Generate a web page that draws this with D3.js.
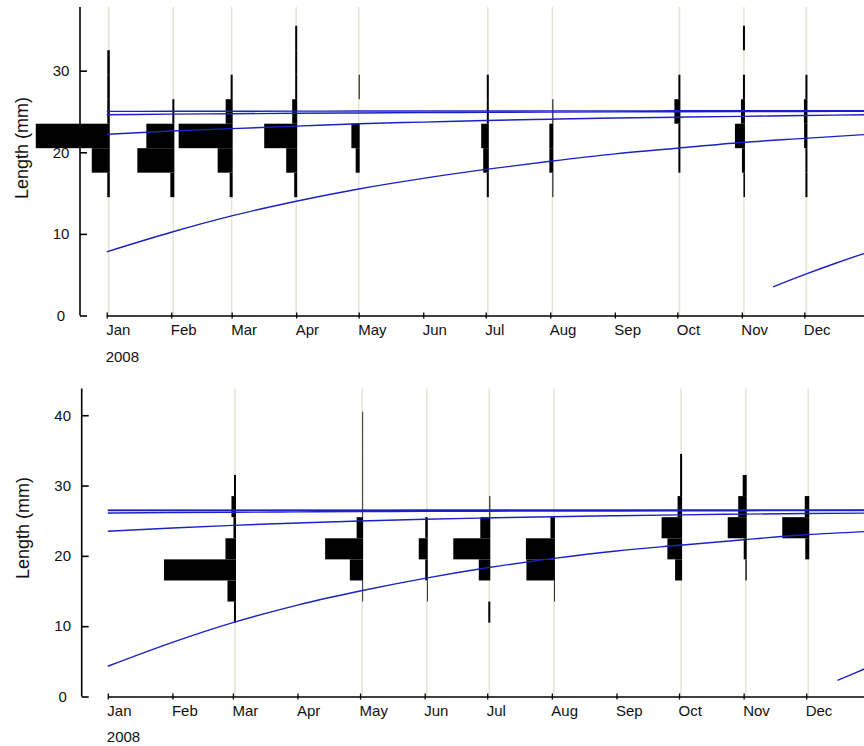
<!DOCTYPE html>
<html>
<head>
<meta charset="utf-8">
<script src="https://cdnjs.cloudflare.com/ajax/libs/d3/7.8.5/d3.min.js"></script>
<style>
    body { margin: 0; background: white; }
    #chart svg { display: block; }
</style>
</head>
<body>
<div id="chart"></div>
<script>

// month ticks on the time axis
const monthTicks = ["2008-01-01", "2008-02-01", "2008-03-01", "2008-04-01", "2008-05-01", "2008-06-01",
    "2008-07-01", "2008-08-01", "2008-09-01", "2008-10-01", "2008-11-01", "2008-12-01"];

// dates where the growth curves were read (1st of each month + year end)
const curveDates = ["2008-01-01", "2008-02-01", "2008-03-01", "2008-04-01", "2008-05-01", "2008-06-01",
    "2008-07-01", "2008-08-01", "2008-09-01", "2008-10-01", "2008-11-01", "2008-12-01", "2009-01-01"];

// ---- upper panel ----
const topSampleDates = ["2008-01-02", "2008-02-02", "2008-03-01", "2008-04-01", "2008-05-01",
    "2008-07-02", "2008-08-02", "2008-10-02", "2008-11-02", "2008-12-02"];
const topBins = [16, 19, 22, 25, 28, 31, 34];   // length class mid points (mm), 3 mm classes
const topFreq = [
    [2.5, 18, 74, 2.5, 2.5, 2.5, 0],    // Jan
    [4, 37, 28, 2, 0, 0, 0],            // Feb
    [3, 15, 54, 7, 2, 0, 0],            // Mar
    [3, 11, 33, 5, 2, 2, 2],            // Apr
    [0, 4, 8.3, 0, 1, 0, 0],            // May
    [2, 5.6, 7.6, 2, 2, 0, 0],          // Jul
    [1, 4, 4, 1, 0, 0, 0],              // Aug
    [0, 2, 2, 6, 2, 0, 0],              // Oct
    [1.5, 3, 10, 4, 2, 0, 2],           // Nov
    [2, 2, 3.3, 3.5, 2, 0, 0]           // Dec
];
const topYTicks = [0, 10, 20, 30];
const topCurve1 = [7.8, 10.2, 12.2, 14.0, 15.5, 16.8, 17.9, 18.9, 19.8, 20.5, 21.2, 21.7, 22.2];
const topCurve2 = [22.2, 22.6, 22.9, 23.2, 23.5, 23.7, 23.9, 24.05, 24.2, 24.3, 24.4, 24.5, 24.6];
const topCurve3 = [24.6, 24.67, 24.72, 24.78, 24.82, 24.86, 24.89, 24.92, 24.95, 24.97, 24.99, 25.0, 25.01];
const topCurve4 = [25.01, 25.02, 25.03, 25.04, 25.05, 25.06, 25.06, 25.07, 25.07, 25.08, 25.08, 25.08, 25.09];
const topRecruitDates = ["2008-11-16", "2008-12-01", "2008-12-16", "2009-01-01"];
const topRecruit = [3.5, 5.0, 6.4, 7.8];

// ---- lower panel ----
const botSampleDates = ["2008-03-02", "2008-05-02", "2008-06-02", "2008-07-02",
    "2008-08-02", "2008-10-02", "2008-11-02", "2008-12-02"];
const botBins = [12, 15, 18, 21, 24, 27, 30, 33, 36, 39];
const botFreq = [
    [2, 8.5, 72, 10.5, 2.5, 4.5, 2, 0, 0, 0],           // Mar
    [0, 0.8, 13.3, 38, 6.5, 0.8, 0.8, 0.8, 0.8, 0.8],   // May
    [0, 0.8, 2.5, 9, 2.5, 0, 0, 0, 0, 0],               // Jun
    [2, 0, 11.5, 37, 10, 1, 0, 0, 0, 0],                // Jul
    [0, 0.8, 28.5, 29, 4.5, 0, 0, 0, 0, 0],             // Aug
    [0, 0, 7, 14.7, 20.5, 4.5, 2, 2, 0, 0],             // Oct
    [0, 0, 1.3, 3, 19, 8.5, 4, 0, 0, 0],                // Nov
    [0, 0, 0, 4, 27, 4.5, 0, 0, 0, 0]                   // Dec
];
const botYTicks = [0, 10, 20, 30, 40];
const botCurve1 = [4.3, 7.7, 10.5, 13.0, 15.0, 16.8, 18.3, 19.6, 20.7, 21.5, 22.3, 23.0, 23.5];
const botCurve2 = [23.5, 23.97, 24.34, 24.68, 24.96, 25.2, 25.39, 25.57, 25.71, 25.83, 25.94, 26.02, 26.09];
const botCurve3 = [26.1, 26.16, 26.21, 26.25, 26.29, 26.32, 26.35, 26.37, 26.39, 26.41, 26.42, 26.44, 26.45];
const botCurve4 = [26.45, 26.46, 26.46, 26.47, 26.47, 26.48, 26.48, 26.48, 26.49, 26.49, 26.49, 26.49, 26.49];
const botCurve5 = [26.49, 26.49, 26.5, 26.5, 26.5, 26.5, 26.5, 26.5, 26.5, 26.5, 26.5, 26.5, 26.5];
const botRecruitDates = ["2008-12-16", "2008-12-24", "2009-01-01"];
const botRecruit = [2.3, 3.3, 4.3];


const parseDate = d3.timeParse("%Y-%m-%d");
const FONT = "'Liberation Sans', Arial, Helvetica, sans-serif";

class LengthFreqPanel {

    constructor(svg, layout, samples, bins, freq, yTicks, curves, recruit) {
        this.svg = svg;
        this.layout = layout;
        this.samples = samples;
        this.bins = bins;
        this.freq = freq;
        this.yTicks = yTicks;
        this.curves = curves;
        this.recruit = recruit;
        this.initVis();
    }

    initVis() {
        let vis = this;
        let L = vis.layout;

        vis.g = vis.svg.append("g");

        // scales
        vis.x = d3.scaleTime()
            .domain([parseDate("2008-01-01"), parseDate("2009-01-01")])
            .range([L.x0, L.x1]);
        vis.y = d3.scaleLinear()
            .domain([0, L.yMax])
            .range([L.yZero, L.yTop]);
        // frequency -> bar length (px)
        vis.w = d3.scaleLinear().domain([0, 100]).range([0, 100]);

        vis.wrangleData();
    }

    wrangleData() {
        let vis = this;

        vis.sampleDates = vis.samples.map(parseDate);

        vis.bars = [];
        vis.freq.forEach((row, i) => {
            row.forEach((f, j) => {
                if (f > 0) vis.bars.push({date: vis.sampleDates[i], mid: vis.bins[j], freq: f});
            });
        });

        vis.curveData = vis.curves.map(c => c.dates.map((d, i) => ({date: parseDate(d), len: c.values[i]})));

        vis.updateVis();
    }

    updateVis() {
        let vis = this;
        let L = vis.layout;

        // sampling date guide lines
        vis.g.selectAll(".sample-line")
            .data(vis.sampleDates)
            .enter().append("line")
            .attr("class", "sample-line")
            .attr("x1", d => vis.x(d))
            .attr("x2", d => vis.x(d))
            .attr("y1", L.yTop)
            .attr("y2", L.yZero)
            .attr("stroke", "#e8e4d6")
            .attr("stroke-width", 1.6);

        // length frequency bars, growing left from the sampling date
        vis.g.selectAll(".lf-bar")
            .data(vis.bars)
            .enter().append("rect")
            .attr("class", "lf-bar")
            .attr("x", d => vis.x(d.date) + 1 - vis.w(d.freq))
            .attr("width", d => vis.w(d.freq))
            .attr("y", d => vis.y(d.mid + 1.5))
            .attr("height", d => vis.y(d.mid - 1.5) - vis.y(d.mid + 1.5))
            .attr("fill", "black");

        // growth curves
        let line = d3.line()
            .x(d => vis.x(d.date))
            .y(d => vis.y(d.len))
            .curve(d3.curveMonotoneX);

        vis.g.selectAll(".growth")
            .data(vis.curveData)
            .enter().append("path")
            .attr("class", "growth")
            .attr("d", line)
            .attr("fill", "none")
            .attr("stroke", "#1a22c2")
            .attr("stroke-width", 1.4);

        // y axis, ticks pointing inwards
        let yAxis = d3.axisLeft(vis.y)
            .tickValues(vis.yTicks)
            .tickSizeInner(-7)
            .tickSizeOuter(0)
            .tickFormat(d3.format("d"));

        let yg = vis.g.append("g")
            .attr("transform", `translate(${L.yAxisX}, 0)`)
            .call(yAxis);
        yg.select(".domain")
            .attr("d", `M0,${L.yZero}V${L.yTop}`)
            .attr("stroke-width", 1.6);
        yg.selectAll(".tick line").attr("stroke-width", 1.6);
        yg.selectAll(".tick text")
            .attr("x", -19)
            .attr("text-anchor", "middle")
            .attr("font-size", 15)
            .attr("font-family", FONT)
            .attr("fill", "#111");

        // x axis starts at Jan, ticks cross the line
        let xAxis = d3.axisBottom(vis.x)
            .tickValues(monthTicks.map(parseDate))
            .tickFormat(d3.timeFormat("%b"))
            .tickSizeInner(3)
            .tickSizeOuter(0);

        let xg = vis.g.append("g")
            .attr("transform", `translate(0, ${L.yZero})`)
            .call(xAxis);
        xg.select(".domain").attr("stroke-width", 1.3);
        xg.selectAll(".tick line")
            .attr("y1", -3)
            .attr("y2", 3)
            .attr("stroke-width", 1.3);
        xg.selectAll(".tick text")
            .attr("x", -1)
            .attr("y", L.tickBase)
            .attr("dy", null)
            .attr("text-anchor", "start")
            .attr("font-size", 15)
            .attr("font-family", FONT)
            .attr("fill", "#111");

        // year label
        vis.g.append("text")
            .attr("x", L.x0 - 1)
            .attr("y", L.yZero + L.yearBase)
            .attr("font-size", 15)
            .attr("font-family", FONT)
            .attr("fill", "#111")
            .text("2008");

        // y axis title
        vis.g.append("text")
            .attr("transform", `translate(${L.titleX}, ${L.titleY}) rotate(-90)`)
            .attr("text-anchor", "middle")
            .attr("dy", "0.35em")
            .attr("font-size", 18)
            .attr("font-family", FONT)
            .attr("fill", "#111")
            .text("Length (mm)");
    }
}

let svg = d3.select("#chart").append("svg")
    .attr("width", 864)
    .attr("height", 746);

function curveSet(list, recruitDates, recruit) {
    let out = list.map(v => ({dates: curveDates, values: v}));
    out.push({dates: recruitDates, values: recruit});
    return out;
}

let topPanel = new LengthFreqPanel(svg,
    {x0: 106.7, x1: 868.9, yZero: 315.5, yTop: 7, yMax: 37.8, yAxisX: 80,
        tickBase: 19.5, yearBase: 46, titleX: 22, titleY: 148},
    topSampleDates, topBins, topFreq, topYTicks,
    curveSet([topCurve1, topCurve2, topCurve3, topCurve4], topRecruitDates, topRecruit));

let bottomPanel = new LengthFreqPanel(svg,
    {x0: 107.8, x1: 870.8, yZero: 696.5, yTop: 388.5, yMax: 43.8, yAxisX: 81.7,
        tickBase: 19, yearBase: 45.5, titleX: 23, titleY: 528},
    botSampleDates, botBins, botFreq, botYTicks,
    curveSet([botCurve1, botCurve2, botCurve3, botCurve4, botCurve5], botRecruitDates, botRecruit));

</script>
</body>
</html>
